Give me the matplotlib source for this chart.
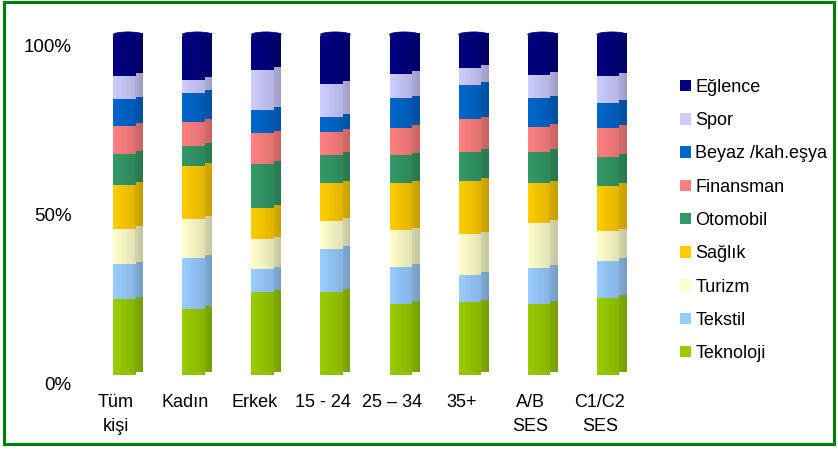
import numpy as np
import matplotlib
matplotlib.use("Agg")
import matplotlib.pyplot as plt
from matplotlib.patches import Patch, Ellipse, Rectangle
from matplotlib.transforms import ScaledTranslation
from matplotlib.colors import to_rgb

plt.rcParams['font.family'] = ['Liberation Sans', 'DejaVu Sans']

# kategoriler
gruplar = ['Tüm\nkişi', 'Kadın', 'Erkek', '15 - 24', '25 – 34', '35+', 'A/B\nSES', 'C1/C2\nSES']

# sektör payları (%), alttan üste
teknoloji = [22.3, 19.6, 24.4, 24.6, 20.9, 21.4, 20.9, 22.9]
tekstil = [10.3, 14.9, 6.8, 12.5, 11.0, 8.1, 10.8, 10.8]
turizm = [10.6, 11.6, 8.8, 8.3, 10.8, 12.0, 13.2, 8.8]
saglik = [12.8, 15.6, 9.4, 11.1, 13.8, 15.7, 11.6, 13.4]
otomobil = [9.3, 5.9, 12.8, 8.3, 8.3, 8.6, 9.3, 8.6]
finansman = [8.1, 7.2, 9.1, 6.9, 8.2, 9.6, 7.4, 8.6]
beyaz = [7.9, 8.6, 6.9, 4.4, 8.6, 10.1, 8.4, 7.4]
spor = [6.9, 3.7, 11.8, 9.6, 7.2, 5.1, 6.9, 7.9]
eglence = [11.8, 13.0, 10.0, 14.2, 11.2, 9.4, 11.5, 11.8]

seriler = [teknoloji, tekstil, turizm, saglik, otomobil, finansman, beyaz, spor, eglence]
isimler = ['Teknoloji', 'Tekstil', 'Turizm', 'Sağlık', 'Otomobil', 'Finansman',
           'Beyaz /kah.eşya', 'Spor', 'Eğlence']
renkler = ['#99CC00', '#99CCFF', '#FFFFCC', '#FFCC00', '#339966', '#FF8080',
           '#0066CC', '#CCCCFF', '#000080']

veri = np.array(seriler, dtype=float)
veri = veri / veri.sum(axis=0) * 100  # %100 yığılmış

W, H = 838, 451
fig = plt.figure(figsize=(W / 100, H / 100), dpi=100)
ax = fig.add_axes([80 / W, (H - 375) / H, 570 / W, 339 / H])

x = np.arange(len(gruplar))
w = 0.43
on_oran = 0.7     # ön yüzün genişlik payı
n_serit = 12
kayma = 0.8       # yan yüzün yukarı kayması (3B görünüm)

alt = np.zeros(len(gruplar))
for degerler, renk in zip(veri, renkler):
    r = np.array(to_rgb(renk))
    for k in range(n_serit):
        f = k / n_serit
        if f < on_oran:
            golge = 1.0 - 0.12 * f / on_oran
            lift = 0
        else:
            golge = 0.84 - 0.08 * (f - on_oran) / (1 - on_oran)
            lift = kayma
        ax.bar(x - w / 2 + f * w, degerler, width=w / n_serit + 0.004,
               bottom=alt + lift, color=np.clip(r * golge, 0, 1),
               align='edge', linewidth=0, antialiased=False, clip_on=False)
    alt += degerler

# alt yuvarlaklık ve üst kapak
for xi in x:
    ax.add_patch(Ellipse((xi - w / 2 + on_oran * w / 2, 0.5), on_oran * w, 1.0,
                         color='#93C400', clip_on=False, linewidth=0))
    ax.add_patch(Ellipse((xi, 100 + kayma / 2), w, 1.6, facecolor='#000080',
                         edgecolor='#000066', linewidth=0.5, clip_on=False))

ax.set_xlim(-0.695, 7.554)
ax.set_ylim(0, 100)
ax.set_xticks(x, gruplar)
ax.set_yticks([0, 50, 100], ['0%', '50%', '100%'])
ax.tick_params(axis='both', length=0, labelsize=13, colors='black')
ax.tick_params(axis='x', pad=14)
ax.tick_params(axis='y', pad=6, labelsize=13.5)
for s in ax.spines.values():
    s.set_visible(False)

kaydir_x = ScaledTranslation(-12 / 100, 0, fig.dpi_scale_trans)
for lab in ax.get_xticklabels():
    lab.set_transform(lab.get_transform() + kaydir_x)
    lab.set_linespacing(1.5)
kaydir_y = ScaledTranslation(0, -9 / 100, fig.dpi_scale_trans)
for lab in ax.get_yticklabels():
    lab.set_transform(lab.get_transform() + kaydir_y)

tutamaclar = [Patch(facecolor=c, edgecolor='none') for c in renkler][::-1]
fig.legend(tutamaclar, isimler[::-1], loc='upper left',
           bbox_to_anchor=(680 / W, 1 - 79 / H), frameon=False, fontsize=13,
           handlelength=0.6, handleheight=0.6, handletextpad=0.25,
           labelspacing=0.9, borderpad=0, borderaxespad=0)

fig.patches.append(Rectangle((4 / W, 7 / H), 830 / W, 442 / H, transform=fig.transFigure,
                             fill=False, edgecolor='#008000', linewidth=2.2))

fig.savefig('out.png', dpi=100, facecolor='white')
